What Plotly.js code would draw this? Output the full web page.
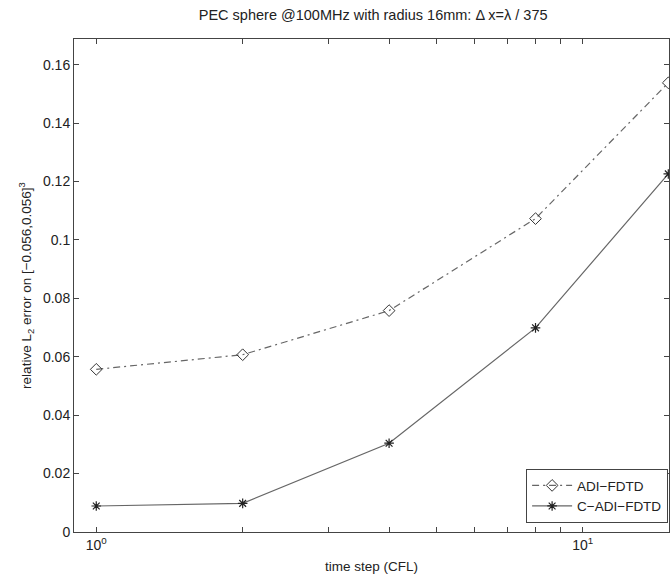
<!DOCTYPE html>
<html>
<head>
<meta charset="utf-8">
<script src="https://cdn.plot.ly/plotly-3.0.1.min.js"></script>
<style>body{margin:0;padding:0;background:#fff}#chart{width:670px;height:576px}</style>
</head>
<body>
<div id="chart"></div>
<script>
const timeSteps = [1, 2, 4, 8, 15];
const adiFdtd = [0.0557, 0.0607, 0.0758, 0.1073, 0.1538];
const cAdiFdtd = [0.0089, 0.0098, 0.0304, 0.0699, 0.1226];
const xTickVals = [1, 2, 3, 4, 5, 6, 7, 8, 9, 10];
const xTickText = ['10<sup>0</sup>', '', '', '', '', '', '', '', '', '10<sup>1</sup>'];
const yTickVals = [0, 0.02, 0.04, 0.06, 0.08, 0.1, 0.12, 0.14, 0.16];
const yTickText = ['0', '0.02', '0.04', '0.06', '0.08', '0.1', '0.12', '0.14', '0.16'];

const fontFam = 'Liberation Sans, Arial, Helvetica, sans-serif';

const traces = [
  {
    x: timeSteps, y: adiFdtd, name: 'ADI\u2212FDTD', type: 'scatter', mode: 'lines+markers',
    line: {color: '#666666', width: 1.2, dash: '7px,4px,2px,4px'},
    marker: {symbol: 'diamond-open', size: 9, color: '#333333', line: {width: 1, color: '#333333'}}
  },
  {
    x: timeSteps, y: cAdiFdtd, name: 'C\u2212ADI\u2212FDTD', type: 'scatter', mode: 'lines+markers',
    line: {color: '#666666', width: 1.2},
    marker: {symbol: 'asterisk-open', size: 8, color: '#222222', line: {width: 1.2, color: '#222222'}}
  }
];

const layout = {
  width: 670, height: 576,
  margin: {l: 74, r: 1, t: 39, b: 44},
  paper_bgcolor: '#ffffff', plot_bgcolor: '#ffffff',
  font: {family: fontFam, size: 14, color: '#222222'},
  title: {text: 'PEC sphere @100MHz with radius 16mm: \u0394 x=\u03bb / 375', font: {size: 14.5, color: '#222222'},
          x: 0.557, xanchor: 'center', y: 1 - 15/576, yanchor: 'middle', yref: 'container'},
  xaxis: {
    type: 'log', range: [Math.log10(0.9), Math.log10(15.05)],
    tickvals: xTickVals, ticktext: xTickText,
    ticks: 'inside', ticklen: 5, tickcolor: '#444444', mirror: 'ticks',
    showline: true, linecolor: '#444444', linewidth: 1, showgrid: false, zeroline: false,
    tickfont: {size: 14},
    title: {text: 'time step (CFL)', font: {size: 13.5}, standoff: 9}
  },
  yaxis: {
    range: [0, 0.1688],
    tickvals: yTickVals, ticktext: yTickText,
    ticks: 'inside', ticklen: 5, tickcolor: '#444444', mirror: 'ticks',
    showline: true, linecolor: '#444444', linewidth: 1, showgrid: false, zeroline: false,
    tickfont: {size: 14},
    title: {text: 'relative L<sub>2</sub> error on [\u22120.056,0.056]<sup>3</sup>', font: {size: 13.5}, standoff: 8}
  },
  legend: {
    x: 0.9985, y: 0.018, xanchor: 'right', yanchor: 'bottom',
    bordercolor: '#444444', borderwidth: 1, bgcolor: '#ffffff',
    font: {size: 13.5}, tracegroupgap: 0, itemwidth: 40
  },
  showlegend: true
};

Plotly.newPlot('chart', traces, layout, {displayModeBar: false, staticPlot: true});
</script>
</body>
</html>
